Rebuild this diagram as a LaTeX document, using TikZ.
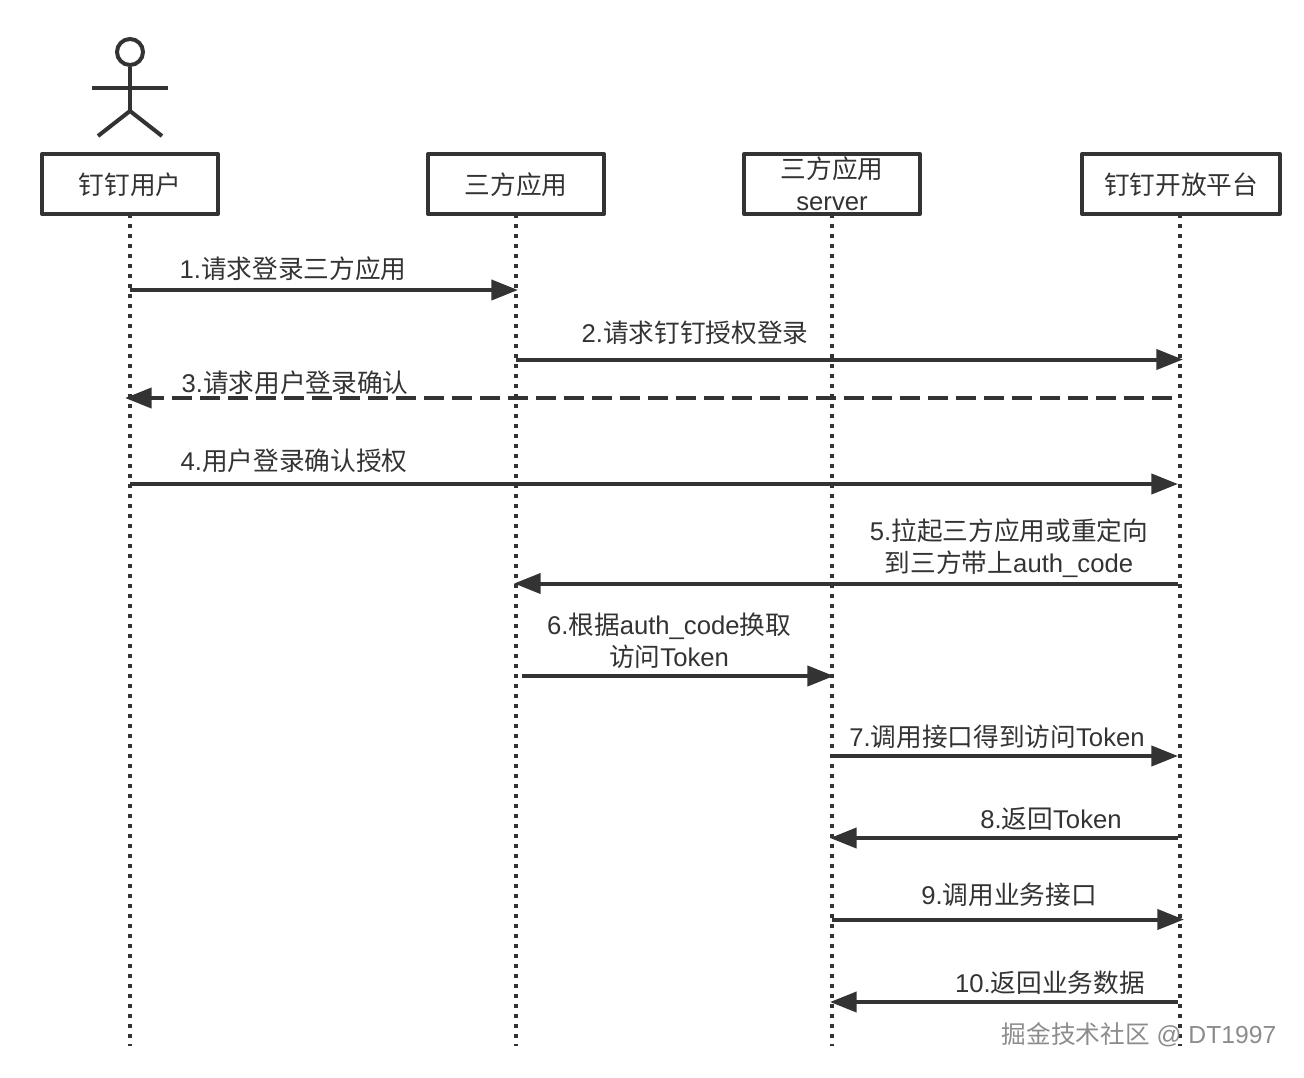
\documentclass[tikz,border=0pt]{standalone}
\usepackage{fontspec}
\setmainfont{Liberation Sans}
\newfontfamily\cjk{Noto Sans CJK SC}
\usetikzlibrary{arrows.meta}
\definecolor{ink}{HTML}{333333}
\definecolor{wm}{HTML}{8C8C8C}
\tikzset{
  x=0.75pt,y=-0.75pt,
  every node/.style={text=ink,font=\fontsize{19.25}{23.7}\selectfont},
  box/.style={draw=ink,line width=3pt,fill=white,minimum height=45pt,inner sep=0pt,outer sep=0pt,align=center,line join=round},
  onebox/.style={box,text height=16.5pt,text depth=0.5pt},
  lifeline/.style={draw=ink,line width=2.6pt,dash pattern=on 3pt off 4.5pt},
  msg/.style={draw=ink,line width=3pt,-{Triangle[length=20pt,width=15pt,fill=ink]}},
  dmsg/.style={msg,dash pattern=on 15pt off 6pt},
  lab/.style={inner sep=0pt,align=center},
  limb/.style={draw=ink,line width=3pt},
}
\begin{document}
\begin{tikzpicture}
\useasboundingbox (0,0) rectangle (1304,1078);
% lifeline ends
\coordinate (e1) at (130,1046);
\coordinate (e2) at (516,1046);
\coordinate (e3) at (832,1046);
\coordinate (e4) at (1180,1046);
% participants
\node[onebox,minimum width=132pt] (p1) at (130,184) {{\cjk 钉钉用户}};
\node[onebox,minimum width=132pt] (p2) at (516,184) {{\cjk 三方应用}};
\node[box,minimum width=132pt] (p3) at (832,184) {{\cjk 三方应用}\\server};
\node[onebox,minimum width=148.5pt] (p4) at (1181,184) {{\cjk 钉钉开放平台}};
\draw[lifeline] (p1.south) -- (e1);
\draw[lifeline] (p2.south) -- (e2);
\draw[lifeline] (p3.south) -- (e3);
\draw[lifeline] (p4.south-|e4) -- (e4);
% actor
\node[draw=ink,line width=3pt,circle,minimum size=19.5pt,inner sep=0pt] (head) at (130,52) {};
\coordinate (hip) at (130,111);
\coordinate (armL) at (92,88);
\coordinate (armR) at (168,88);
\coordinate (legL) at (98,136);
\coordinate (legR) at (162,136);
\draw[limb] (head.south) -- (hip);
\draw[limb] (armL) -- (armR);
\draw[limb] (legL) -- (hip) -- (legR);
% messages
\coordinate (a1) at (130,290);  \coordinate (b1) at (518,290);
\coordinate (a2) at (516,359.5);  \coordinate (b2) at (1183,359.5);
\coordinate (a3) at (1172,398); \coordinate (b3) at (125,398);
\coordinate (a4) at (130,484);  \coordinate (b4) at (1178,484);
\coordinate (a5) at (1178,583.5); \coordinate (b5) at (514,583.5);
\coordinate (a6) at (522,676);  \coordinate (b6) at (834,676);
\coordinate (a7) at (832,756);  \coordinate (b7) at (1178,756);
\coordinate (a8) at (1178,838); \coordinate (b8) at (830,838);
\coordinate (a9) at (832,919.5);  \coordinate (b9) at (1184,919.5);
\coordinate (a10) at (1178,1002); \coordinate (b10) at (830,1002);
\draw[msg] (a1) -- (b1);
\draw[msg] (a2) -- (b2);
\draw[dmsg] (a3) -- (b3);
\draw[msg] (a4) -- (b4);
\draw[msg] (a5) -- (b5);
\draw[msg] (a6) -- (b6);
\draw[msg] (a7) -- (b7);
\draw[msg] (a8) -- (b8);
\draw[msg] (a9) -- (b9);
\draw[msg] (a10) -- (b10);
% labels
\node[lab] (l1) at (293,269) {1.{\cjk 请求登录三方应用}};
\node[lab] (l2) at (695,333) {2.{\cjk 请求钉钉授权登录}};
\node[lab] (l3) at (295,383) {3.{\cjk 请求用户登录确认}};
\node[lab] (l4) at (294,460.5) {4.{\cjk 用户登录确认授权}};
\node[lab] (l5) at (1009,548) {5.{\cjk 拉起三方应用或重定向}\\{\cjk 到三方带上}auth\_code};
\node[lab] (l6) at (669,641) {6.{\cjk 根据}auth\_code{\cjk 换取}\\{\cjk 访问}Token};
\node[lab] (l7) at (997,737) {7.{\cjk 调用接口得到访问}Token};
\node[lab] (l8) at (1051,819) {8.{\cjk 返回}Token};
\node[lab] (l9) at (1009,895) {9.{\cjk 调用业务接口}};
\node[lab] (l10) at (1050,983) {10.{\cjk 返回业务数据}};
\node[lab,text=wm,font=\fontsize{18.5}{22}\selectfont] (wmk) at (1139,1035) {{\cjk 掘金技术社区} @ DT1997};
\end{tikzpicture}
\end{document}
